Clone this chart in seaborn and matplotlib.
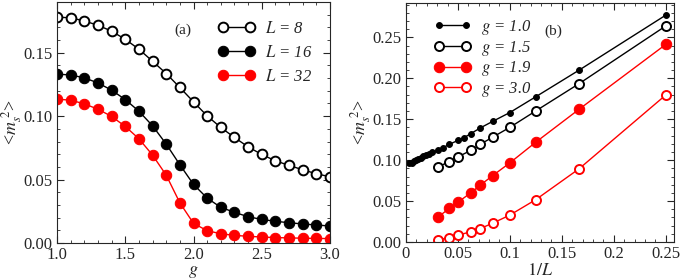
import numpy as np
import pandas as pd
import matplotlib
matplotlib.use("Agg")
import matplotlib.pyplot as plt
from matplotlib.ticker import MultipleLocator
import seaborn as sns

# panel (a): <m_s^2> vs g
g = np.round(np.arange(1.0, 3.01, 0.1), 1)
m_L8 = [0.178, 0.1776, 0.175, 0.1717, 0.167, 0.1606, 0.1528, 0.1433, 0.1336, 0.1226, 0.1113,
        0.1002, 0.0911, 0.0832, 0.0758, 0.0698, 0.0648, 0.0612, 0.0577, 0.0546, 0.0522]
m_L16 = [0.1331, 0.1325, 0.1302, 0.1262, 0.1205, 0.1131, 0.1039, 0.0924, 0.078, 0.0617, 0.0462,
         0.0354, 0.0281, 0.0242, 0.0207, 0.0186, 0.0171, 0.016, 0.015, 0.0142, 0.0134]
m_L32 = [0.1134, 0.1126, 0.1097, 0.1055, 0.0998, 0.0919, 0.0822, 0.0693, 0.0535, 0.0317, 0.0155,
         0.0097, 0.0073, 0.006, 0.0053, 0.0047, 0.0043, 0.004, 0.0038, 0.0036, 0.0035]

# panel (b): <m_s^2> vs 1/L
L_g10 = [300, 180, 130, 102, 84, 71, 61, 52, 46, 40, 32, 28, 24, 20, 18, 16, 14, 12, 10, 8, 6, 4]
m_g10 = [0.0964, 0.0971, 0.0988, 0.1004, 0.102, 0.1031, 0.1048, 0.1064, 0.108, 0.1096, 0.112,
         0.1152, 0.1193, 0.1241, 0.1272, 0.1325, 0.1393, 0.1473, 0.1582, 0.1775, 0.21, 0.2771]
L_short = [32, 24, 20, 16, 14, 12, 10, 8, 6, 4]
m_g15 = [0.0919, 0.0983, 0.104, 0.112, 0.1193, 0.128, 0.1401, 0.1602, 0.1935, 0.2639]
m_g19 = [0.0309, 0.041, 0.0486, 0.0602, 0.0694, 0.081, 0.0967, 0.122, 0.1622, 0.2413]
m_g30 = [0.0028, 0.0052, 0.008, 0.0128, 0.0164, 0.0229, 0.0329, 0.0518, 0.0895, 0.1795]

sns.set_style("ticks")
plt.rcParams['font.family'] = ['Liberation Serif', 'DejaVu Serif']
plt.rcParams['mathtext.fontset'] = 'stix'
plt.rcParams['font.size'] = 10

fig = plt.figure(figsize=(6.81, 2.80), dpi=100)
ax1 = fig.add_axes([57 / 681, 1 - 243 / 280, 273 / 681, 241 / 280])
ax2 = fig.add_axes([406 / 681, 1 - 242 / 280, 268 / 681, 239 / 280])

da = pd.DataFrame({'g': g, 'L8': m_L8, 'L16': m_L16, 'L32': m_L32})
sns.lineplot(data=da, x='g', y='L8', ax=ax1, color='black', lw=1, marker='o', ms=7,
             mfc='white', mec='black', mew=1.4, label=r'$L$ = 8')
sns.lineplot(data=da, x='g', y='L16', ax=ax1, color='black', lw=1, marker='o', ms=7.5,
             mfc='black', mec='black', label=r'$L$ = 16')
sns.lineplot(data=da, x='g', y='L32', ax=ax1, color='red', lw=1, marker='o', ms=7.5,
             mfc='red', mec='red', label=r'$L$ = 32')

db = pd.DataFrame({'x': 1 / np.array(L_g10), 'y': m_g10})
ds = pd.DataFrame({'x': 1 / np.array(L_short), 'g15': m_g15, 'g19': m_g19, 'g30': m_g30})
sns.lineplot(data=db, x='x', y='y', ax=ax2, color='black', lw=1, marker='o', ms=4.2,
             mfc='black', mec='black', label=r'$g$ = 1.0')
sns.lineplot(data=ds, x='x', y='g15', ax=ax2, color='black', lw=1, marker='o', ms=6.5,
             mfc='white', mec='black', mew=1.4, label=r'$g$ = 1.5')
sns.lineplot(data=ds, x='x', y='g19', ax=ax2, color='red', lw=1, marker='o', ms=7.5,
             mfc='red', mec='red', label=r'$g$ = 1.9')
sns.lineplot(data=ds, x='x', y='g30', ax=ax2, color='red', lw=1, marker='o', ms=6.5,
             mfc='white', mec='red', mew=1.4, label=r'$g$ = 3.0')

ax1.set_xlim(1.0, 3.0)
ax1.set_ylim(0, 0.19)
ax1.xaxis.set_major_locator(MultipleLocator(0.5))
ax1.xaxis.set_minor_locator(MultipleLocator(0.1))
ax1.yaxis.set_major_locator(MultipleLocator(0.05))
ax1.yaxis.set_minor_locator(MultipleLocator(0.01))
ax1.xaxis.set_major_formatter(plt.FuncFormatter(lambda v, p: f"{v:.1f}"))
ax1.yaxis.set_major_formatter(plt.FuncFormatter(lambda v, p: f"{v:.2f}"))
ax1.set_xlabel(r'$g$', fontsize=13, labelpad=0)
ax1.text(0.43, 0.87, '(a)', transform=ax1.transAxes, fontsize=11)

ax2.set_xlim(0, 0.258)
ax2.set_ylim(0, 0.292)
ax2.xaxis.set_major_locator(MultipleLocator(0.05))
ax2.xaxis.set_minor_locator(MultipleLocator(0.01))
ax2.yaxis.set_major_locator(MultipleLocator(0.05))
ax2.yaxis.set_minor_locator(MultipleLocator(0.01))
ax2.xaxis.set_major_formatter(plt.FuncFormatter(lambda v, p: "0" if v == 0 else f"{v:g}"))
ax2.yaxis.set_major_formatter(plt.FuncFormatter(lambda v, p: f"{v:.2f}"))
ax2.set_xlabel(r'$\mathit{1}/L$', fontsize=13, labelpad=0)
ax2.text(0.515, 0.865, '(b)', transform=ax2.transAxes, fontsize=11)

for ax in (ax1, ax2):
    ax.set_ylabel(r'<$m_s^{\ 2}$>', fontsize=13, labelpad=0)
    ax.tick_params(which='both', direction='in', top=True, right=True, labelsize=12, pad=3)
    ax.tick_params(which='major', length=5, width=0.8)
    ax.tick_params(which='minor', length=2.5, width=0.6)
    for s in ax.spines.values():
        s.set_linewidth(0.8)

leg1 = ax1.legend(loc='upper right', numpoints=2, frameon=False, fontsize=12,
                  handlelength=2.2, handletextpad=0.6, labelspacing=0.5,
                  bbox_to_anchor=(0.99, 0.985))
leg2 = ax2.legend(loc='upper left', numpoints=2, frameon=False, fontsize=12,
                  handlelength=2.2, handletextpad=0.6, labelspacing=0.1,
                  bbox_to_anchor=(0.05, 1.0))
for leg in (leg1, leg2):
    for t in leg.get_texts():
        t.set_fontstyle('italic')

fig.savefig('out.png', dpi=100)
